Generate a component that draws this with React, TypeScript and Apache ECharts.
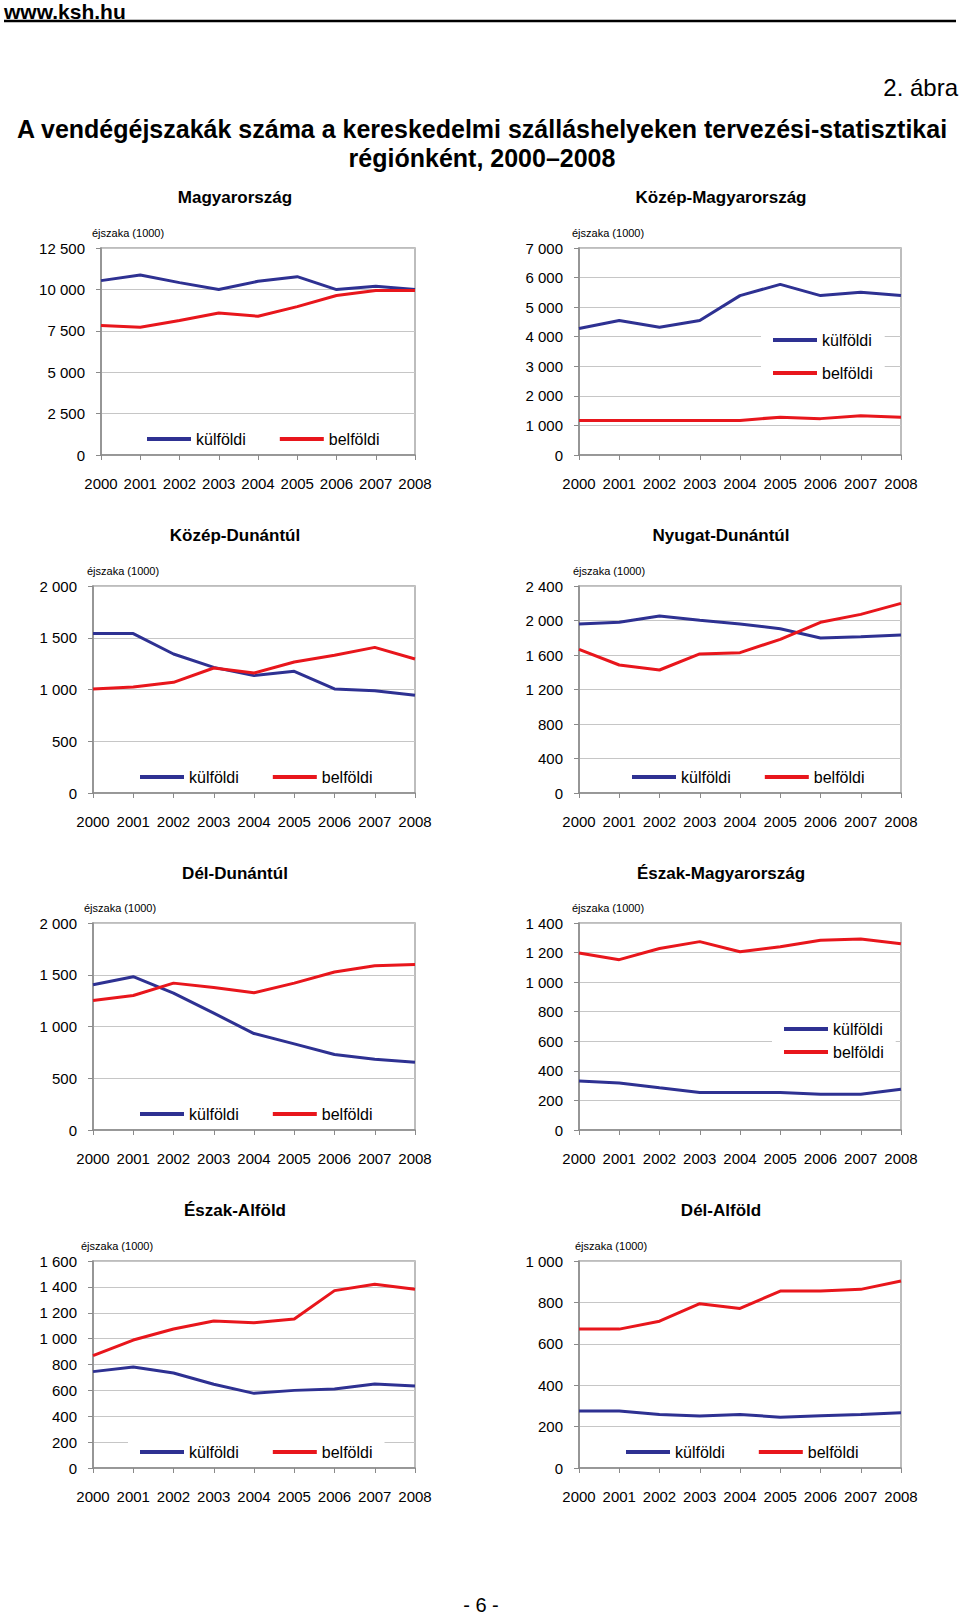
import React, { useEffect, useRef } from 'react';
import * as echarts from 'echarts';

// ---- data ----
const years = ['2000', '2001', '2002', '2003', '2004', '2005', '2006', '2007', '2008'];
const seriesNames = ['külföldi', 'belföldi'];
const regionTitles = [
  'Magyarország',
  'Közép-Magyarország',
  'Közép-Dunántúl',
  'Nyugat-Dunántúl',
  'Dél-Dunántúl',
  'Észak-Magyarország',
  'Észak-Alföld',
  'Dél-Alföld',
];

const magyarorszagKulfoldi = [10530, 10870, 10410, 9990, 10490, 10770, 9990, 10190, 9990];
const magyarorszagBelfoldi = [7820, 7720, 8120, 8580, 8380, 8960, 9630, 9930, 9930];
const kozepMagyarorszagKulfoldi = [4280, 4550, 4320, 4550, 5390, 5770, 5390, 5500, 5390];
const kozepMagyarorszagBelfoldi = [1170, 1170, 1170, 1170, 1170, 1280, 1230, 1330, 1280];
const kozepDunantulKulfoldi = [1540, 1540, 1343, 1214, 1134, 1176, 1005, 989, 944];
const kozepDunantulBelfoldi = [1005, 1024, 1069, 1208, 1159, 1266, 1330, 1407, 1295];
const nyugatDunantulKulfoldi = [1959, 1979, 2052, 2002, 1959, 1905, 1797, 1813, 1832];
const nyugatDunantulBelfoldi = [1666, 1484, 1426, 1612, 1627, 1782, 1979, 2071, 2199];
const delDunantulKulfoldi = [1403, 1481, 1323, 1129, 932, 832, 729, 684, 655];
const delDunantulBelfoldi = [1252, 1300, 1419, 1377, 1326, 1419, 1526, 1587, 1600];
const eszakMagyarorszagKulfoldi = [332, 318, 285, 253, 253, 253, 242, 242, 275];
const eszakMagyarorszagBelfoldi = [1197, 1152, 1228, 1274, 1206, 1240, 1283, 1292, 1260];
const eszakAlfoldKulfoldi = [745, 781, 734, 647, 577, 600, 611, 649, 634];
const eszakAlfoldBelfoldi = [868, 989, 1074, 1136, 1123, 1152, 1371, 1420, 1381];
const delAlfoldKulfoldi = [275, 275, 259, 251, 259, 245, 253, 259, 267];
const delAlfoldBelfoldi = [671, 671, 709, 794, 771, 855, 855, 863, 903];

const kulfoldiData = [
  magyarorszagKulfoldi, kozepMagyarorszagKulfoldi, kozepDunantulKulfoldi, nyugatDunantulKulfoldi,
  delDunantulKulfoldi, eszakMagyarorszagKulfoldi, eszakAlfoldKulfoldi, delAlfoldKulfoldi,
];
const belfoldiData = [
  magyarorszagBelfoldi, kozepMagyarorszagBelfoldi, kozepDunantulBelfoldi, nyugatDunantulBelfoldi,
  delDunantulBelfoldi, eszakMagyarorszagBelfoldi, eszakAlfoldBelfoldi, delAlfoldBelfoldi,
];
const yMax = [12500, 7000, 2000, 2400, 2000, 1400, 1600, 1000];
const yInterval = [2500, 1000, 500, 400, 500, 200, 200, 200];

const unitLabel = 'éjszaka (1000)';
const headerText = 'www.ksh.hu';
const figureLabel = '2. ábra';
const mainTitle1 = 'A vendégéjszakák száma a kereskedelmi szálláshelyeken tervezési-statisztikai';
const mainTitle2 = 'régiónként, 2000–2008';
const pageNumber = '- 6 -';

// ---- layout / style ----
const FONT = '"Liberation Sans", Arial, Helvetica, sans-serif';
const BLUE = '#2e3192';
const RED = '#e8161c';

const layout = [
  { left: 101, top: 248, width: 314, titleX: 235, titleY: 197, unitX: 92, lg: { orient: 'horizontal', x: 147, y: 439, gap: 34 } },
  { left: 579, top: 248, width: 322, titleX: 721, titleY: 197, unitX: 572, lg: { orient: 'vertical', x: 773, y: 340, gap: 15 } },
  { left: 93, top: 586, width: 322, titleX: 235, titleY: 535, unitX: 87, lg: { orient: 'horizontal', x: 140, y: 777, gap: 34 } },
  { left: 579, top: 586, width: 322, titleX: 721, titleY: 535, unitX: 573, lg: { orient: 'horizontal', x: 632, y: 777, gap: 34 } },
  { left: 93, top: 923, width: 322, titleX: 235, titleY: 873, unitX: 84, lg: { orient: 'horizontal', x: 140, y: 1114, gap: 34 } },
  { left: 579, top: 923, width: 322, titleX: 721, titleY: 873, unitX: 572, lg: { orient: 'vertical', x: 784, y: 1029, gap: 5 } },
  { left: 93, top: 1261, width: 322, titleX: 235, titleY: 1210, unitX: 81, lg: { orient: 'horizontal', x: 140, y: 1452, gap: 34 } },
  { left: 579, top: 1261, width: 322, titleX: 721, titleY: 1210, unitX: 575, lg: { orient: 'horizontal', x: 626, y: 1452, gap: 34 } },
];
const PLOT_H = 207;
const LG_PAD: [number, number] = [4, 12];
const LG_LINE_H = 18;

function fmt(v: number): string {
  return String(v).replace(/\B(?=(\d{3})+(?!\d))/g, ' ');
}

function buildOption(): any {
  const grid: any[] = [];
  const xAxis: any[] = [];
  const yAxis: any[] = [];
  const series: any[] = [];
  const legend: any[] = [];
  const graphic: any[] = [];

  layout.forEach((L, i) => {
    grid.push({
      left: L.left, top: L.top, width: L.width, height: PLOT_H,
      show: true, borderColor: '#a8a8a8', borderWidth: 1.5, backgroundColor: 'transparent',
    });
    xAxis.push({
      type: 'category', gridIndex: i, data: years, boundaryGap: false,
      axisLine: { show: true, lineStyle: { color: '#8a8a8a', width: 1.5 } },
      axisTick: { show: true, alignWithLabel: true, length: 5, lineStyle: { color: '#8a8a8a' } },
      axisLabel: { color: '#000', fontSize: 15, fontFamily: FONT, margin: 21, interval: 0 },
      splitLine: { show: false },
    });
    yAxis.push({
      type: 'value', gridIndex: i, min: 0, max: yMax[i], interval: yInterval[i],
      axisLine: { show: true, lineStyle: { color: '#8a8a8a', width: 1.5 } },
      axisTick: { show: true, length: 5, lineStyle: { color: '#8a8a8a' } },
      axisLabel: { color: '#000', fontSize: 15, fontFamily: FONT, margin: 16, formatter: (v: number) => fmt(v) },
      splitLine: { show: true, lineStyle: { color: '#c6c6c6', width: 1 } },
    });
    series.push({
      type: 'line', name: seriesNames[0], xAxisIndex: i, yAxisIndex: i, data: kulfoldiData[i],
      symbol: 'none', silent: true, color: BLUE,
      lineStyle: { color: BLUE, width: 3 }, itemStyle: { color: BLUE },
    });
    series.push({
      type: 'line', name: seriesNames[1], xAxisIndex: i, yAxisIndex: i, data: belfoldiData[i],
      symbol: 'none', silent: true, color: RED,
      lineStyle: { color: RED, width: 3 }, itemStyle: { color: RED },
    });
    legend.push({
      orient: L.lg.orient,
      left: L.lg.x - LG_PAD[1],
      top: L.lg.y - LG_LINE_H / 2 - LG_PAD[0],
      data: seriesNames,
      icon: 'rect', itemWidth: 44, itemHeight: 4, itemGap: L.lg.gap,
      padding: LG_PAD, backgroundColor: '#ffffff', selectedMode: false,
      textStyle: { fontSize: 16, fontFamily: FONT, color: '#000', lineHeight: LG_LINE_H },
    });
    graphic.push({
      type: 'text', x: L.titleX, y: L.titleY,
      style: { text: regionTitles[i], fontSize: 17, fontWeight: 'bold', fontFamily: FONT, fill: '#000', align: 'center', verticalAlign: 'middle' },
    });
    graphic.push({
      type: 'text', x: L.unitX, y: L.top - 15.5,
      style: { text: unitLabel, fontSize: 11, fontFamily: FONT, fill: '#000', align: 'left', verticalAlign: 'middle' },
    });
  });

  graphic.push({
    type: 'text', x: 4, y: 11,
    style: { text: headerText, fontSize: 21, fontWeight: 'bold', fontFamily: FONT, fill: '#000', align: 'left', verticalAlign: 'middle' },
  });
  graphic.push({
    type: 'line', shape: { x1: 4, y1: 21, x2: 956, y2: 21 },
    style: { stroke: '#000', lineWidth: 2.5 },
  });
  graphic.push({
    type: 'text', x: 958, y: 87,
    style: { text: figureLabel, fontSize: 24, fontFamily: FONT, fill: '#000', align: 'right', verticalAlign: 'middle' },
  });
  graphic.push({
    type: 'text', x: 482, y: 129,
    style: { text: mainTitle1, fontSize: 25, fontWeight: 'bold', fontFamily: FONT, fill: '#000', align: 'center', verticalAlign: 'middle' },
  });
  graphic.push({
    type: 'text', x: 482, y: 158,
    style: { text: mainTitle2, fontSize: 25, fontWeight: 'bold', fontFamily: FONT, fill: '#000', align: 'center', verticalAlign: 'middle' },
  });
  graphic.push({
    type: 'text', x: 481, y: 1605,
    style: { text: pageNumber, fontSize: 20, fontFamily: FONT, fill: '#000', align: 'center', verticalAlign: 'middle' },
  });

  return {
    animation: false,
    backgroundColor: '#ffffff',
    textStyle: { fontFamily: FONT },
    grid, xAxis, yAxis, series, legend, graphic,
  };
}

export default function App() {
  const ref = useRef<HTMLDivElement>(null);
  useEffect(() => {
    if (!ref.current) return;
    const chart = echarts.init(ref.current, undefined, { renderer: 'svg' });
    chart.setOption(buildOption());
    return () => chart.dispose();
  }, []);
  return (
    <div
      ref={ref}
      style={{ position: 'absolute', left: 0, top: 0, width: 960, height: 1620, background: '#fff' }}
    />
  );
}
